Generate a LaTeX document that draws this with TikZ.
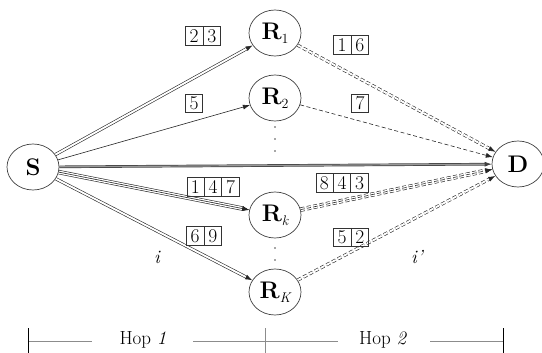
\documentclass[tikz,border=0pt]{standalone}
\usepackage{fontspec}
\usetikzlibrary{arrows.meta,shapes.geometric,shapes.multipart}
% small lowered index after a bold letter
\newcommand\lowidx[1]{\raisebox{-0.35ex}{\fontsize{14}{14}\selectfont\mdseries #1}}
\begin{document}
\begin{tikzpicture}[x=1pt,y=-1pt,
  station/.style={draw=black!75, line width=0.7pt, ellipse, minimum width=52pt,
    minimum height=46pt, inner sep=0pt, font=\fontsize{24}{24}\selectfont\bfseries},
  tip/.style={-{Latex[length=7pt,width=5pt]}},
  link/.style={line width=0.6pt, draw=black!85, tip},
  dbl/.style={line width=0.6pt, double, double distance=1.9pt, draw=black!85, tip},
  wide/.style={line width=0.6pt, double, double distance=3.2pt, draw=black!85, tip},
  dsh/.style={dash pattern=on 4pt off 2.5pt},
  cells/.style={rectangle split, rectangle split horizontal, rectangle split parts=#1,
    draw=black!80, line width=0.7pt, inner xsep=4pt, inner ysep=2.5pt,
    text height=13pt, text depth=0pt, font=\fontsize{19.5}{19.5}\selectfont},
  lbl/.style={font=\fontsize{19}{19}\selectfont\itshape},
  hop/.style={font=\fontsize{19}{19}\selectfont, inner sep=0pt},
  rule/.style={draw=black!45, line width=0.8pt},
  endtick/.style={draw=black, line width=0.8pt},
  relaydot/.style={fill=black!70}
]
\useasboundingbox (0,0) rectangle (542,353);

% stations
\node[station] (S)  at (33,167)  {S};
\node[station] (R1) at (275,33)  {R\lowidx{1}};
\node[station] (R2) at (275,98)  {R\lowidx{2}};
\node[station] (Rk) at (275,215) {R\lowidx{\itshape k}};
\node[station] (RK) at (275,292) {R\lowidx{\itshape K}};
\node[station] (D)  at (518,164) {D};

% omitted relays
\fill[relaydot] (275,127) circle (0.9pt) (275,139) circle (0.9pt) (275,151) circle (0.9pt);
\fill[relaydot] (275,248) circle (0.9pt) (275,260) circle (0.9pt);

% hop 1
\draw[dbl] (S) -- (R1);
\draw[link] (S) -- (R2);
\draw[wide] (S) -- (Rk);
\draw[link] (S) -- (Rk);
\draw[dbl] (S) -- (RK);
\draw[line width=0.7pt, double=black!40, double distance=1.2pt, draw=black!75, tip] (S) -- (D);

% hop 2
\draw[dbl,dsh] (R1) -- (D);
\draw[link,dsh] (R2) -- (D);
\draw[wide,dsh] (Rk) -- (D);
\draw[link,dsh] (Rk) -- (D);
\draw[dbl,dsh] (RK) -- (D);

% packet labels
\node[cells=2] (c23)  at (203,36)  {2\nodepart{two}3};
\node[cells=1] (c5)   at (194,103) {5};
\node[cells=3] (c147) at (213,187) {1\nodepart{two}4\nodepart{three}7};
\node[cells=2] (c69)  at (204,236) {6\nodepart{two}9};
\node[cells=2] (c16)  at (351,45)  {1\nodepart{two}6};
\node[cells=1] (c7)   at (360,103) {7};
\node[cells=3] (c843) at (342,183) {8\nodepart{two}4\nodepart{three}3};
\node[cells=2] (c52)  at (351,237) {5\nodepart{two}2};

\node[lbl] (li)  at (157,257) {i};
\node[lbl] (lip) at (417,257) {i\kern0.3pt'};

% hop ruler
\coordinate (a0) at (28,341);
\coordinate (a1) at (92,341);
\coordinate (a2) at (193,341);
\coordinate (a3) at (338,341);
\coordinate (a4) at (430,341);
\coordinate (a5) at (503,341);
\node[hop] (h1) at (143,340) {Hop \textit{1}};
\node[hop] (h2) at (383,340) {Hop \textit{2}};
\draw[rule] (a0) -- (a1);
\draw[rule] (a2) -- (a3);
\draw[rule] (a4) -- (a5);
\coordinate (t0) at (28,328);  \coordinate (b0) at (28,353);
\coordinate (t1) at (265,328); \coordinate (b1) at (265,353);
\coordinate (t2) at (503,328); \coordinate (b2) at (503,353);
\draw[endtick] (t0) -- (b0);
\draw[rule] (t1) -- (b1);
\draw[endtick] (t2) -- (b2);
\end{tikzpicture}
\end{document}
